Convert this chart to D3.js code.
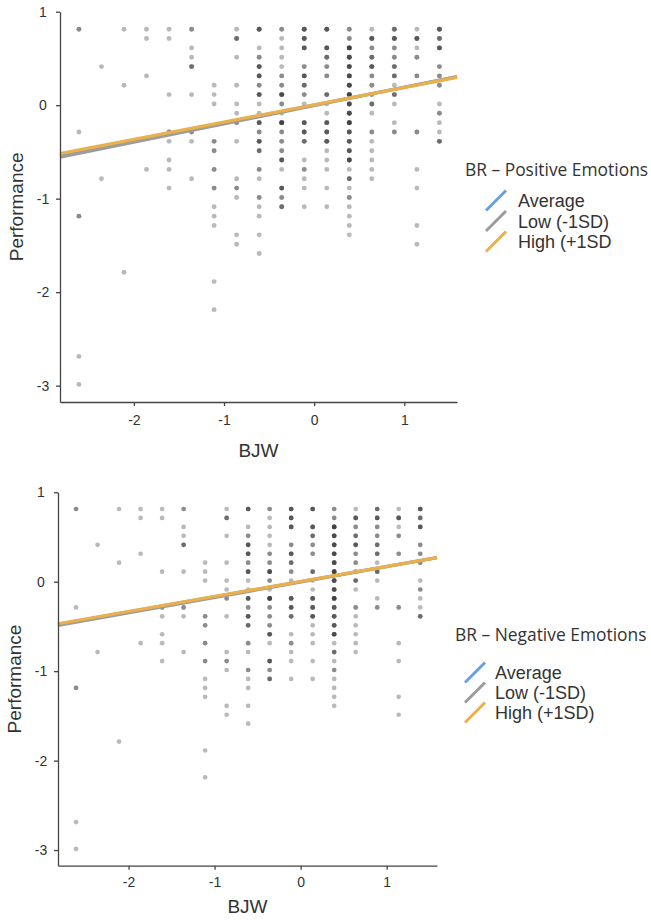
<!DOCTYPE html>
<html>
<head>
<meta charset="utf-8">
<script src="https://cdn.jsdelivr.net/npm/d3@7/dist/d3.min.js"></script>
<style>
  html, body { margin: 0; padding: 0; background: #fff; }
  svg { display: block; }
</style>
</head>
<body>
<svg id="chart" width="651" height="922"></svg>
<script>
// ---------------- DATA ----------------
const bjwLevels = [-2.61, -2.36, -2.11, -1.86, -1.61, -1.36, -1.11, -0.86, -0.61, -0.36, -0.11, 0.14, 0.39, 0.64, 0.89, 1.14, 1.39];

// performance values observed in each BJW column
const perfValues = [
  [0.8, -0.3, -1.2, -2.7, -3.0],
  [0.4, -0.8],
  [0.8, 0.2, -1.8],
  [0.8, 0.7, 0.3, -0.7],
  [0.8, 0.7, 0.1, -0.3, -0.4, -0.6, -0.7, -0.9],
  [0.8, 0.6, 0.5, 0.4, 0.1, -0.3, -0.4, -0.8],
  [0.2, 0.1, 0.0, -0.4, -0.5, -0.7, -0.9, -1.1, -1.2, -1.3, -1.9, -2.2],
  [0.8, 0.7, 0.5, 0.2, 0.0, -0.1, -0.2, -0.4, -0.8, -0.9, -1.0, -1.4, -1.5],
  [0.8, 0.6, 0.5, 0.4, 0.3, 0.2, 0.1, 0.0, -0.1, -0.2, -0.3, -0.4, -0.5, -0.7, -0.8, -1.0, -1.1, -1.2, -1.4, -1.6],
  [0.8, 0.7, 0.6, 0.5, 0.4, 0.3, 0.2, 0.1, 0.0, -0.1, -0.2, -0.3, -0.4, -0.5, -0.6, -0.7, -0.9, -1.0, -1.1],
  [0.8, 0.7, 0.6, 0.4, 0.3, 0.2, 0.1, 0.0, -0.2, -0.3, -0.4, -0.6, -0.7, -0.8, -0.9, -1.1],
  [0.8, 0.6, 0.5, 0.4, 0.3, 0.1, 0.0, -0.1, -0.2, -0.3, -0.4, -0.5, -0.6, -0.7, -0.9, -1.1],
  [0.8, 0.7, 0.6, 0.5, 0.4, 0.3, 0.2, 0.1, 0.0, -0.1, -0.2, -0.3, -0.4, -0.5, -0.6, -0.7, -0.8, -0.9, -1.0, -1.1, -1.2, -1.3, -1.4],
  [0.8, 0.7, 0.6, 0.5, 0.4, 0.3, 0.2, 0.1, 0.0, -0.1, -0.3, -0.4, -0.5, -0.6, -0.7, -0.8],
  [0.8, 0.7, 0.6, 0.5, 0.4, 0.3, 0.2, 0.1, 0.0, -0.2, -0.3],
  [0.8, 0.7, 0.6, 0.5, 0.3, -0.3, -0.7, -0.9, -1.3, -1.5],
  [0.8, 0.7, 0.6, 0.4, 0.3, 0.2, 0.0, -0.1, -0.2, -0.3, -0.4]
];
// number of overlapping respondents at each of those values
const perfCounts = [
  [2, 1, 2, 1, 1],
  [1, 1],
  [1, 1, 1],
  [1, 1, 1, 1],
  [1, 1, 1, 2, 1, 1, 1, 1],
  [2, 1, 1, 3, 1, 2, 1, 1],
  [1, 1, 1, 2, 2, 2, 2, 1, 1, 1, 1, 1],
  [1, 3, 1, 1, 1, 1, 2, 1, 1, 2, 1, 1, 1],
  [4, 1, 2, 4, 4, 2, 4, 1, 1, 4, 2, 4, 3, 2, 1, 2, 1, 1, 1, 1],
  [2, 1, 1, 1, 1, 2, 2, 5, 2, 1, 6, 2, 2, 2, 4, 1, 4, 2, 3],
  [4, 4, 4, 2, 4, 3, 2, 1, 4, 4, 3, 1, 2, 1, 1, 1],
  [4, 4, 3, 2, 2, 3, 1, 1, 4, 4, 4, 1, 1, 1, 1, 1],
  [2, 2, 6, 5, 5, 5, 5, 6, 5, 5, 6, 4, 4, 4, 5, 1, 3, 1, 2, 1, 1, 1, 1],
  [1, 4, 2, 3, 4, 2, 2, 2, 3, 1, 2, 1, 1, 1, 1, 1],
  [3, 4, 2, 2, 3, 3, 1, 3, 1, 1, 2],
  [1, 4, 1, 2, 2, 2, 1, 1, 1, 1],
  [4, 3, 4, 2, 2, 2, 1, 2, 1, 1, 3]
];

const xTicks = [-2, -1, 0, 1];
const yTicks = [-3, -2, -1, 0, 1];
const lineLabels = ["Average", "Low (-1SD)", "High (+1SD)"];
const lineColors = ["#6b9fe4", "#9c9c9c", "#e9b04b"];
const posIntercepts = [0.002, -0.004, 0.004];
const posSlopes = [0.190, 0.196, 0.185];
const negIntercepts = [0.002, -0.004, 0.004];
const negSlopes = [0.170, 0.172, 0.168];
const xTitle = "BJW";
const yTitle = "Performance";
const legendTitles = ["BR \u2013 Positive Emotions", "BR \u2013 Negative Emotions"];

// ---------------- DRAW ----------------
const svg = d3.select("#chart");
const xDomain = [-2.82, 1.585];
const yDomain = [-3.175, 1.0];

const points = [];
bjwLevels.forEach((bx, i) => {
  perfValues[i].forEach((py, j) => {
    for (let k = 0; k < perfCounts[i][j]; k++) points.push({x: bx, y: py + 0.013});
  });
});

const tickFmt = d => String(d);

function panel(cfg) {
  const g = svg.append("g");
  const x = d3.scaleLinear().domain(xDomain).range([cfg.left, cfg.right]);
  const y = d3.scaleLinear().domain(yDomain).range([cfg.bottom, cfg.top]);

  // points
  g.append("g").selectAll("circle").data(points).join("circle")
    .attr("cx", d => x(d.x)).attr("cy", d => y(d.y)).attr("r", cfg.r)
    .attr("fill", "#333").attr("fill-opacity", 0.34);

  // regression lines
  const lg = g.append("g");
  lineLabels.forEach((lab, i) => {
    lg.append("line")
      .attr("x1", x(xDomain[0])).attr("y1", y(cfg.intercepts[i] + cfg.slopes[i] * xDomain[0]))
      .attr("x2", x(xDomain[1])).attr("y2", y(cfg.intercepts[i] + cfg.slopes[i] * xDomain[1]))
      .attr("stroke", lineColors[i]).attr("stroke-width", 3.2);
  });

  // axes
  const xAxis = g.append("g").attr("transform", `translate(0,${cfg.bottom})`)
    .call(d3.axisBottom(x).tickValues(xTicks).tickSize(4).tickPadding(cfg.xPad).tickFormat(tickFmt).tickSizeOuter(0));
  const yAxis = g.append("g").attr("transform", `translate(${cfg.left},0)`)
    .call(d3.axisLeft(y).tickValues(yTicks).tickSize(4).tickPadding(6).tickFormat(tickFmt).tickSizeOuter(0));
  [xAxis, yAxis].forEach(a => {
    a.select(".domain").attr("stroke", "#444").attr("stroke-width", 1.3);
    a.selectAll(".tick line").attr("stroke", "#444").attr("stroke-width", 1.3);
    a.selectAll(".tick text").attr("fill", "#333").attr("font-size", 14)
      .attr("font-family", "'Liberation Sans', Arial, sans-serif");
  });
  yAxis.selectAll(".tick text").attr("text-anchor", "middle").attr("x", -17);

  // axis titles
  g.append("text").attr("x", (cfg.left + cfg.right) / 2).attr("y", cfg.xTitleY)
    .attr("text-anchor", "middle").attr("font-size", 19).attr("fill", "#333")
    .attr("font-family", "'Liberation Sans', Arial, sans-serif").text(xTitle);
  g.append("text").attr("transform", `translate(${cfg.yTitleX},${(cfg.top + cfg.bottom) / 2}) rotate(-90)`)
    .attr("text-anchor", "middle").attr("font-size", 19).attr("fill", "#333")
    .attr("font-family", "'Liberation Sans', Arial, sans-serif").text(yTitle);

  // legend
  const clipId = "clip" + cfg.id;
  svg.append("clipPath").attr("id", clipId).append("rect")
    .attr("x", 0).attr("y", 0).attr("width", cfg.clipX).attr("height", 922);
  const leg = g.append("g");
  leg.append("text").attr("x", cfg.legTitleX).attr("y", cfg.legTitleY)
    .attr("font-size", 17.4).attr("fill", "#333")
    .attr("font-family", "'Open Sans', sans-serif").text(cfg.legendTitle);
  const items = leg.append("g").attr("clip-path", `url(#${clipId})`);
  lineLabels.forEach((lab, i) => {
    const cy = cfg.legY0 + i * cfg.legStep;
    items.append("line")
      .attr("x1", cfg.legSymX - 10).attr("y1", cy + 10)
      .attr("x2", cfg.legSymX + 10).attr("y2", cy - 10)
      .attr("stroke", lineColors[i]).attr("stroke-width", 3);
    items.append("text").attr("x", cfg.legTextX).attr("y", cy + 6.5)
      .attr("font-size", 18).attr("fill", "#333")
      .attr("font-family", "'Liberation Sans', Arial, sans-serif").text(lab);
  });
}

panel({
  id: 1, left: 60, right: 457, top: 11.7, bottom: 402, r: 2.45, xPad: 9,
  intercepts: posIntercepts, slopes: posSlopes,
  xTitleY: 457, yTitleX: 23,
  legendTitle: legendTitles[0], legTitleX: 465, legTitleY: 176,
  legSymX: 496, legTextX: 518, legY0: 200.5, legStep: 20.5, clipX: 612
});
panel({
  id: 2, left: 58, right: 437, top: 492.3, bottom: 865.7, r: 2.35, xPad: 7,
  intercepts: negIntercepts, slopes: negSlopes,
  xTitleY: 913, yTitleX: 21,
  legendTitle: legendTitles[1], legTitleX: 455, legTitleY: 641,
  legSymX: 475, legTextX: 495, legY0: 672.5, legStep: 20, clipX: 651
});
</script>
</body>
</html>
